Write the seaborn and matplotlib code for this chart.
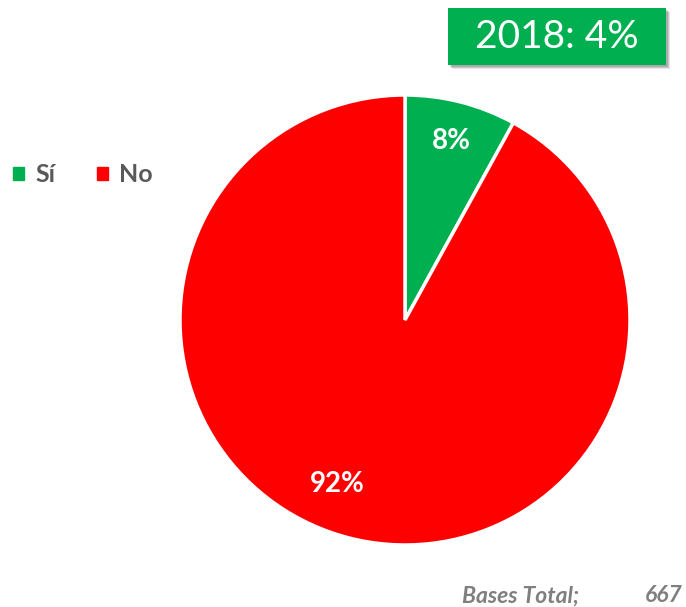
import matplotlib
matplotlib.use("Agg")
import matplotlib.pyplot as plt
import seaborn as sns
from matplotlib.patches import Rectangle

# ---- data ----
categories = ["Sí", "No"]
values = [8, 92]
pct_labels = ["8%", "92%"]
box_text = "2018: 4%"
base_label = "Bases Total;"
base_value = "667"

sns.set_theme(style="white")
plt.rcParams['font.family'] = ['Lato', 'DejaVu Sans']
colors = sns.color_palette(["#00B050", "#FF0000"])

W, H = 686, 607
fig = plt.figure(figsize=(W / 100, H / 100), dpi=100)

# pie axes: centre (405, 320) px, radius 225 px
cx, cy, r = 405, 320, 225
ax = fig.add_axes([(cx - r) / W, (H - cy - r) / H, 2 * r / W, 2 * r / H])
wedges, texts = ax.pie(values, colors=colors, startangle=90, counterclock=False,
                       wedgeprops=dict(edgecolor="white", linewidth=2.5),
                       labels=pct_labels, labeldistance=0.82,
                       textprops=dict(color="white", fontsize=20, fontweight="bold",
                                      ha="center", va="center"))
texts[1].set_position((-0.30, -0.73))
ax.set_xlim(-1.0, 1.0)
ax.set_ylim(-1.0, 1.0)
ax.set_aspect("equal")
ax.axis("off")

# legend
handles = [Rectangle((0, 0), 1, 1, color=c) for c in colors]
leg = fig.legend(handles, categories, loc="center left",
                 bbox_to_anchor=(13 / W, (H - 175) / H), ncol=2, frameon=False,
                 borderpad=0, borderaxespad=0,
                 handlelength=0.45, handleheight=0.45, handletextpad=0.45,
                 columnspacing=1.65, prop=dict(size=18, weight="bold"))
for t in leg.get_texts():
    t.set_color("#595959")

# title box with shadow
bx0, by0, bw, bh = 448, 8, 218, 57
for i, a in enumerate([0.10, 0.12, 0.15]):
    off = 4 - i
    fig.patches.append(Rectangle(((bx0 + off) / W, (H - by0 - bh - off) / H), bw / W, bh / H,
                                 transform=fig.transFigure, facecolor="black", alpha=a,
                                 edgecolor="none", zorder=1))
fig.patches.append(Rectangle((bx0 / W, (H - by0 - bh) / H), bw / W, bh / H,
                             transform=fig.transFigure, facecolor="#00B050",
                             edgecolor="none", zorder=2))
fig.text((bx0 + bw / 2) / W, (H - by0 - bh / 2) / H, box_text, color="white",
         fontsize=28, ha="center", va="center", zorder=3)

# bases
fig.text(462 / W, (H - 596) / H, base_label, color="#7F7F7F", fontsize=16.5,
         fontweight="bold", fontstyle="italic", ha="left", va="center")
fig.text(683 / W, (H - 596) / H, base_value, color="#7F7F7F", fontsize=16.5,
         fontweight="bold", fontstyle="italic", ha="right", va="center")

fig.savefig("out.png", dpi=100, facecolor="white")
